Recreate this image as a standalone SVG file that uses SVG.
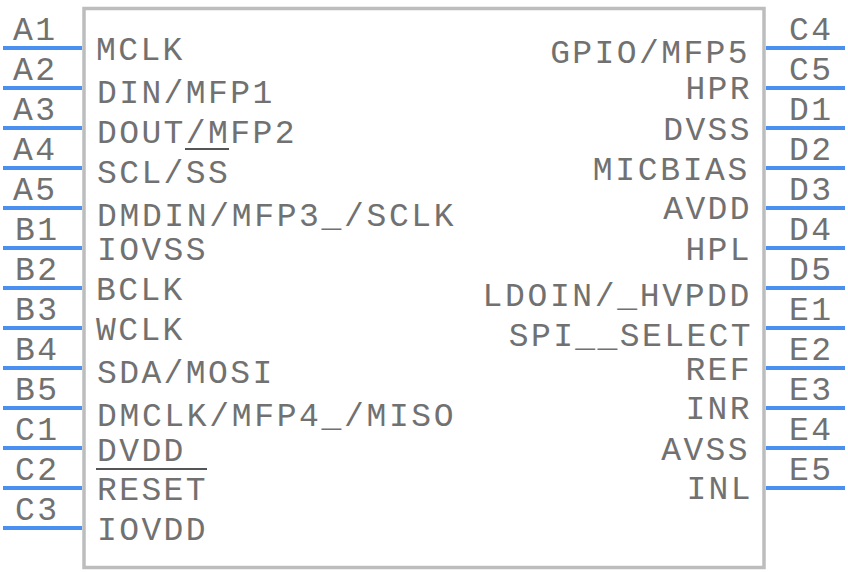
<svg xmlns="http://www.w3.org/2000/svg" width="848" height="572" viewBox="0 0 848 572">
<style>
text{font-family:"Liberation Mono",monospace;font-size:33px;fill:#717171;letter-spacing:2.4px}
.w{letter-spacing:2.65px}
.r{text-anchor:end}
.p{stroke:#4a90f0;stroke-width:4;fill:none}
.o{stroke:#555;stroke-width:2;fill:none}
</style>
<rect width="848" height="572" fill="#fff"/>
<g id="body"><rect x="84" y="8.500" width="680" height="559" fill="#fff" stroke="#bdbdbd" stroke-width="3.500"/></g>
<g id="connectors">
<path class="p" d="M3 48H82M3 88H82M3 128H82M3 168H82M3 208H82M3 248H82M3 288H82M3 328H82M3 368H82M3 408H82M3 448H82M3 488H82M3 528H82"/>
<path class="p" d="M766 48H845M766 88H845M766 128H845M766 168H845M766 208H845M766 248H845M766 288H845M766 328H845M766 368H845M766 408H845M766 448H845M766 488H845"/>
</g>
<g id="pin-names">
<text x="13" y="40">A1</text><text x="13" y="80">A2</text><text x="13" y="120">A3</text><text x="13" y="160">A4</text><text x="13" y="200">A5</text>
<text x="15" y="240">B1</text><text x="15" y="280">B2</text><text x="15" y="320">B3</text><text x="15" y="360">B4</text><text x="15" y="400">B5</text>
<text x="15" y="440">C1</text><text x="15" y="480">C2</text><text x="15" y="520">C3</text>
<text x="789" y="40">C4</text><text x="789" y="80">C5</text><text x="789" y="120">D1</text><text x="789" y="160">D2</text><text x="789" y="200">D3</text><text x="789" y="240">D4</text><text x="789" y="280">D5</text>
<text x="789" y="320">E1</text><text x="789" y="360">E2</text><text x="789" y="400">E3</text><text x="789" y="440">E4</text><text x="789" y="480">E5</text>
</g>
<g id="left-labels">
<text x="96" y="60">MCLK</text><text x="97" y="103">DIN/MFP1</text><text x="97" y="143">DOUT/MFP2</text><text x="97" y="183">SCL/SS</text><text class="w" x="97" y="226">DMDIN/MFP3_/SCLK</text><text x="97" y="260">IOVSS</text><text x="96" y="300">BCLK</text><text x="96" y="340">WCLK</text><text x="97" y="383">SDA/MOSI</text><text class="w" x="97" y="426">DMCLK/MFP4_/MISO</text><text x="97" y="461">DVDD</text><text x="97" y="500">RESET</text><text x="97" y="540">IOVDD</text>
</g>
<g id="right-labels">
<text class="r" x="750" y="63">GPIO/MFP5</text><text class="r" x="752" y="99">HPR</text><text class="r" x="752" y="140">DVSS</text><text class="r w" x="750" y="180">MICBIAS</text><text class="r" x="752" y="219">AVDD</text><text class="r" x="752" y="260">HPL</text><text class="r w" x="752" y="306">LDOIN/_HVPDD</text><text class="r" x="753" y="346">SPI__SELECT</text><text class="r" x="752" y="380">REF</text><text class="r" x="752" y="419">INR</text><text class="r" x="750" y="460">AVSS</text><text class="r" x="753" y="499">INL</text>
</g>
<g id="overlines">
<path class="o" d="M185 149H229M96 469H207"/>
</g>
</svg>
